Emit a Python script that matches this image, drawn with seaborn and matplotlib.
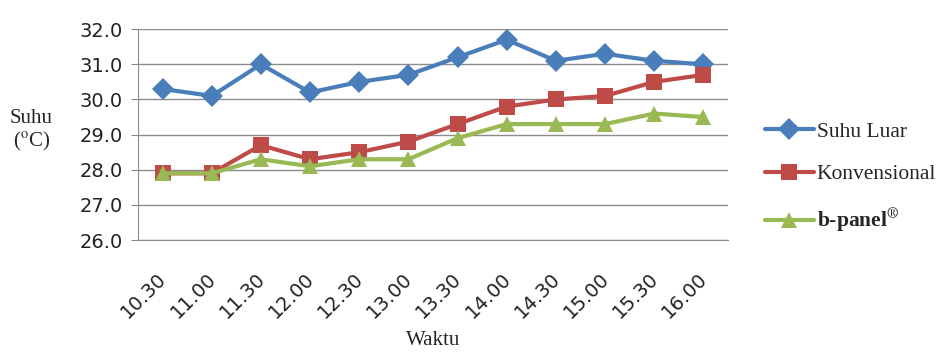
import pandas as pd
import seaborn as sns
import matplotlib.pyplot as plt
from matplotlib.ticker import FixedLocator
from matplotlib.transforms import ScaledTranslation

# data
waktu = ['10.30', '11.00', '11.30', '12.00', '12.30', '13.00',
         '13.30', '14.00', '14.30', '15.00', '15.30', '16.00']
suhu_luar = [30.3, 30.1, 31.0, 30.2, 30.5, 30.7, 31.2, 31.7, 31.1, 31.3, 31.1, 31.0]
konvensional = [27.9, 27.9, 28.7, 28.3, 28.5, 28.8, 29.3, 29.8, 30.0, 30.1, 30.5, 30.7]
b_panel = [27.9, 27.9, 28.3, 28.1, 28.3, 28.3, 28.9, 29.3, 29.3, 29.3, 29.6, 29.5]

series = ['Suhu Luar', 'Konvensional', 'b-panel']
df = pd.DataFrame({
    'Waktu': waktu * 3,
    'Suhu': suhu_luar + konvensional + b_panel,
    'Seri': [s for s in series for _ in waktu],
})

sns.set_style('white')
plt.rcParams['mathtext.fontset'] = 'stix'

warna = {'Suhu Luar': '#4A7EBB', 'Konvensional': '#BE4B48', 'b-panel': '#98B954'}
penanda = {'Suhu Luar': 'D', 'Konvensional': 's', 'b-panel': '^'}

fig = plt.figure(figsize=(9.47, 3.6), dpi=100)
ax = fig.add_axes([0.1457, 0.333, 0.623, 0.586])

sns.lineplot(data=df, x='Waktu', y='Suhu', hue='Seri', style='Seri',
             palette=warna, markers=penanda, dashes=False,
             linewidth=3, markersize=11, markeredgewidth=0, ax=ax, legend=False)

ax.set_ylim(26, 32)
ax.set_xlim(-0.5, len(waktu) - 0.5)
ax.set_yticks([26, 27, 28, 29, 30, 31, 32])
ax.set_yticklabels([f'{v:.1f}' for v in range(26, 33)], fontsize=14, color='#222222')
ax.set_xticks(range(len(waktu)))
ax.set_xticklabels(waktu, rotation=45, ha='right', rotation_mode='anchor',
                   fontsize=14, color='#222222')
ax.tick_params(axis='x', which='major', length=0, pad=21)
# geser sedikit ke kiri
for lbl in ax.get_xticklabels():
    lbl.set_transform(lbl.get_transform() + ScaledTranslation(-4 / 72, 0, fig.dpi_scale_trans))
ax.xaxis.set_minor_locator(FixedLocator([i - 0.5 for i in range(len(waktu) + 1)]))
ax.tick_params(axis='x', which='minor', length=6, color='#888888', direction='out')
ax.tick_params(axis='y', length=5, color='#888888', direction='out', left=True, pad=6)

ax.yaxis.grid(True, color='#8c8c8c', linewidth=1)
ax.set_axisbelow(True)
for s in ['top', 'right']:
    ax.spines[s].set_visible(False)
for s in ['left', 'bottom']:
    ax.spines[s].set_color('#8c8c8c')

ax.set_xlabel('')
ax.set_ylabel('')
fig.text(0.457, 0.055, 'Waktu', fontsize=15, family='Liberation Serif',
         ha='center', va='center')
fig.text(0.033, 0.636, 'Suhu\n($^{\\mathrm{o}}$C)', fontsize=15, family='Liberation Serif',
         ha='center', va='center', linespacing=1.15)

# legenda di kanan
handles = [plt.Line2D([], [], color=warna[s], marker=penanda[s], linewidth=3,
                      markersize=11, markeredgewidth=0) for s in series]
labels = ['Suhu Luar', 'Konvensional', 'b-panel$^{\\circledR}$']
leg = fig.legend(handles, labels, loc='center left', bbox_to_anchor=(0.787, 0.505),
                 frameon=False, prop={'family': 'Liberation Serif', 'size': 15.5},
                 handlelength=2.3, handletextpad=0.12, labelspacing=1.05, numpoints=1)
leg.get_texts()[2].set_fontweight('bold')

plt.savefig('out.png', dpi=100)
